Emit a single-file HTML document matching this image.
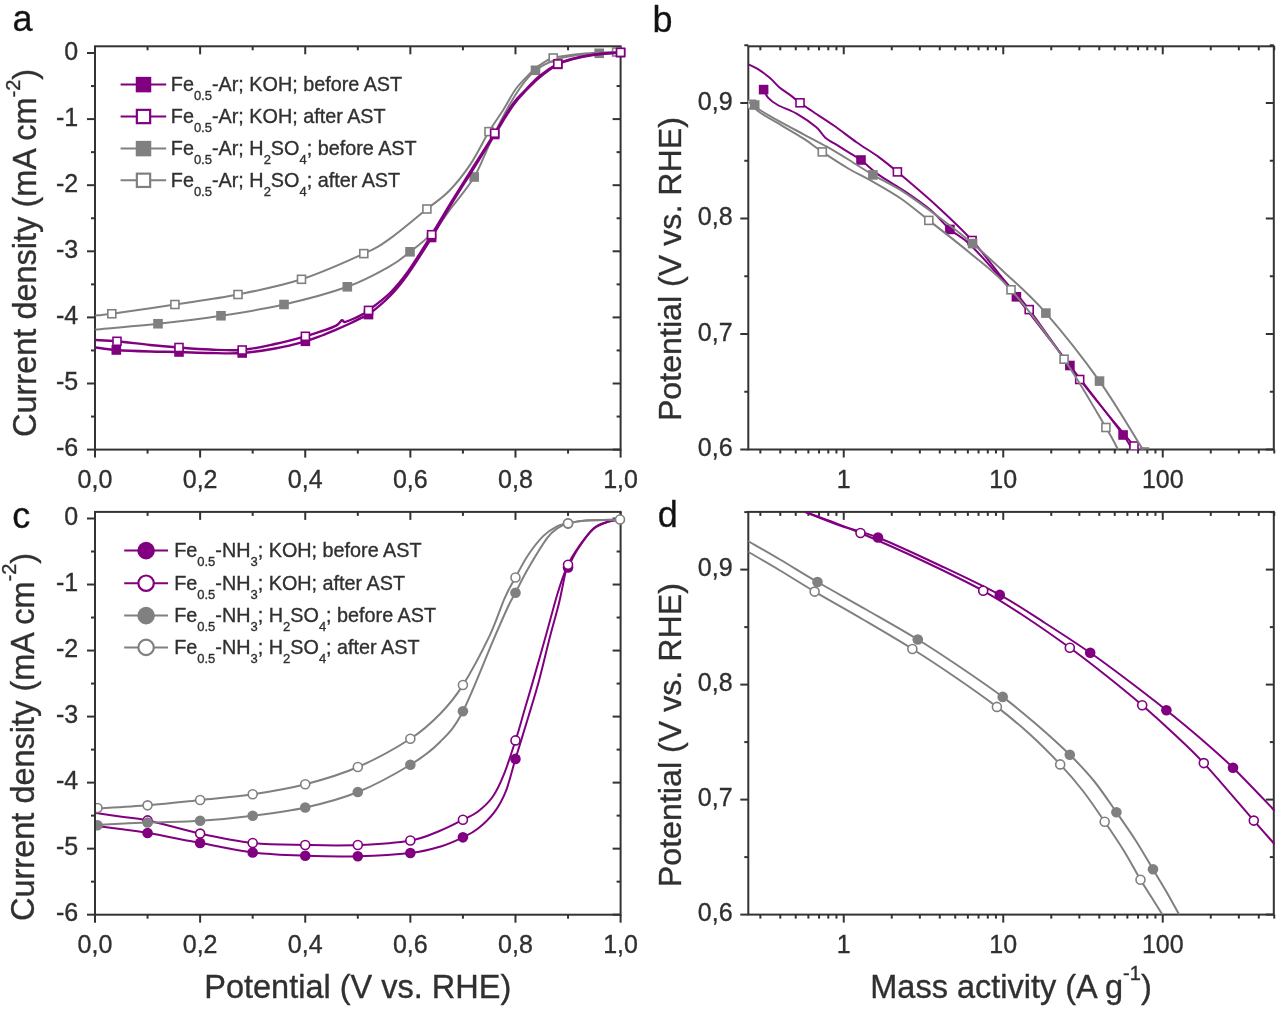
<!DOCTYPE html>
<html><head><meta charset="utf-8"><title>Figure</title>
<style>html,body{margin:0;padding:0;background:#fff;width:1280px;height:1009px;overflow:hidden}svg{display:block;filter:blur(0.65px)}text{stroke:#303030;stroke-width:0.35px}</style>
</head><body>
<svg width="1280" height="1009" viewBox="0 0 1280 1009" font-family='"Liberation Sans", sans-serif'>
<rect width="1280" height="1009" fill="#fff"/>
<rect x="95" y="46.3" width="525.6" height="403.3" fill="none" stroke="#333333" stroke-width="2"/>
<line x1="95" y1="449.6" x2="95" y2="457.6" stroke="#333333" stroke-width="2"/>
<line x1="95" y1="46.3" x2="95" y2="54.3" stroke="#333333" stroke-width="2"/>
<line x1="200.12" y1="449.6" x2="200.12" y2="457.6" stroke="#333333" stroke-width="2"/>
<line x1="200.12" y1="46.3" x2="200.12" y2="54.3" stroke="#333333" stroke-width="2"/>
<line x1="305.24" y1="449.6" x2="305.24" y2="457.6" stroke="#333333" stroke-width="2"/>
<line x1="305.24" y1="46.3" x2="305.24" y2="54.3" stroke="#333333" stroke-width="2"/>
<line x1="410.36" y1="449.6" x2="410.36" y2="457.6" stroke="#333333" stroke-width="2"/>
<line x1="410.36" y1="46.3" x2="410.36" y2="54.3" stroke="#333333" stroke-width="2"/>
<line x1="515.48" y1="449.6" x2="515.48" y2="457.6" stroke="#333333" stroke-width="2"/>
<line x1="515.48" y1="46.3" x2="515.48" y2="54.3" stroke="#333333" stroke-width="2"/>
<line x1="620.6" y1="449.6" x2="620.6" y2="457.6" stroke="#333333" stroke-width="2"/>
<line x1="620.6" y1="46.3" x2="620.6" y2="54.3" stroke="#333333" stroke-width="2"/>
<line x1="147.56" y1="449.6" x2="147.56" y2="453.6" stroke="#333333" stroke-width="2"/>
<line x1="147.56" y1="46.3" x2="147.56" y2="50.3" stroke="#333333" stroke-width="2"/>
<line x1="252.68" y1="449.6" x2="252.68" y2="453.6" stroke="#333333" stroke-width="2"/>
<line x1="252.68" y1="46.3" x2="252.68" y2="50.3" stroke="#333333" stroke-width="2"/>
<line x1="357.8" y1="449.6" x2="357.8" y2="453.6" stroke="#333333" stroke-width="2"/>
<line x1="357.8" y1="46.3" x2="357.8" y2="50.3" stroke="#333333" stroke-width="2"/>
<line x1="462.92" y1="449.6" x2="462.92" y2="453.6" stroke="#333333" stroke-width="2"/>
<line x1="462.92" y1="46.3" x2="462.92" y2="50.3" stroke="#333333" stroke-width="2"/>
<line x1="568.04" y1="449.6" x2="568.04" y2="453.6" stroke="#333333" stroke-width="2"/>
<line x1="568.04" y1="46.3" x2="568.04" y2="50.3" stroke="#333333" stroke-width="2"/>
<line x1="87" y1="53" x2="95" y2="53" stroke="#333333" stroke-width="2"/>
<line x1="612.6" y1="53" x2="620.6" y2="53" stroke="#333333" stroke-width="2"/>
<line x1="87" y1="119.1" x2="95" y2="119.1" stroke="#333333" stroke-width="2"/>
<line x1="612.6" y1="119.1" x2="620.6" y2="119.1" stroke="#333333" stroke-width="2"/>
<line x1="87" y1="185.2" x2="95" y2="185.2" stroke="#333333" stroke-width="2"/>
<line x1="612.6" y1="185.2" x2="620.6" y2="185.2" stroke="#333333" stroke-width="2"/>
<line x1="87" y1="251.3" x2="95" y2="251.3" stroke="#333333" stroke-width="2"/>
<line x1="612.6" y1="251.3" x2="620.6" y2="251.3" stroke="#333333" stroke-width="2"/>
<line x1="87" y1="317.4" x2="95" y2="317.4" stroke="#333333" stroke-width="2"/>
<line x1="612.6" y1="317.4" x2="620.6" y2="317.4" stroke="#333333" stroke-width="2"/>
<line x1="87" y1="383.5" x2="95" y2="383.5" stroke="#333333" stroke-width="2"/>
<line x1="612.6" y1="383.5" x2="620.6" y2="383.5" stroke="#333333" stroke-width="2"/>
<line x1="87" y1="449.6" x2="95" y2="449.6" stroke="#333333" stroke-width="2"/>
<line x1="612.6" y1="449.6" x2="620.6" y2="449.6" stroke="#333333" stroke-width="2"/>
<line x1="91" y1="86.05" x2="95" y2="86.05" stroke="#333333" stroke-width="2"/>
<line x1="616.6" y1="86.05" x2="620.6" y2="86.05" stroke="#333333" stroke-width="2"/>
<line x1="91" y1="152.15" x2="95" y2="152.15" stroke="#333333" stroke-width="2"/>
<line x1="616.6" y1="152.15" x2="620.6" y2="152.15" stroke="#333333" stroke-width="2"/>
<line x1="91" y1="218.25" x2="95" y2="218.25" stroke="#333333" stroke-width="2"/>
<line x1="616.6" y1="218.25" x2="620.6" y2="218.25" stroke="#333333" stroke-width="2"/>
<line x1="91" y1="284.35" x2="95" y2="284.35" stroke="#333333" stroke-width="2"/>
<line x1="616.6" y1="284.35" x2="620.6" y2="284.35" stroke="#333333" stroke-width="2"/>
<line x1="91" y1="350.45" x2="95" y2="350.45" stroke="#333333" stroke-width="2"/>
<line x1="616.6" y1="350.45" x2="620.6" y2="350.45" stroke="#333333" stroke-width="2"/>
<line x1="91" y1="416.55" x2="95" y2="416.55" stroke="#333333" stroke-width="2"/>
<line x1="616.6" y1="416.55" x2="620.6" y2="416.55" stroke="#333333" stroke-width="2"/>
<text x="78.2" y="59.6" font-size="25" text-anchor="end" fill="#303030">0</text>
<text x="78.2" y="125.7" font-size="25" text-anchor="end" fill="#303030">-1</text>
<text x="78.2" y="191.8" font-size="25" text-anchor="end" fill="#303030">-2</text>
<text x="78.2" y="257.9" font-size="25" text-anchor="end" fill="#303030">-3</text>
<text x="78.2" y="324" font-size="25" text-anchor="end" fill="#303030">-4</text>
<text x="78.2" y="390.1" font-size="25" text-anchor="end" fill="#303030">-5</text>
<text x="78.2" y="456.2" font-size="25" text-anchor="end" fill="#303030">-6</text>
<text x="95" y="487.6" font-size="25" text-anchor="middle" fill="#303030">0,0</text>
<text x="200.12" y="487.6" font-size="25" text-anchor="middle" fill="#303030">0,2</text>
<text x="305.24" y="487.6" font-size="25" text-anchor="middle" fill="#303030">0,4</text>
<text x="410.36" y="487.6" font-size="25" text-anchor="middle" fill="#303030">0,6</text>
<text x="515.48" y="487.6" font-size="25" text-anchor="middle" fill="#303030">0,8</text>
<text x="620.6" y="487.6" font-size="25" text-anchor="middle" fill="#303030">1,0</text>
<rect x="95" y="511.9" width="525.6" height="402.8" fill="none" stroke="#333333" stroke-width="2"/>
<line x1="95" y1="914.7" x2="95" y2="922.7" stroke="#333333" stroke-width="2"/>
<line x1="95" y1="511.9" x2="95" y2="519.9" stroke="#333333" stroke-width="2"/>
<line x1="200.12" y1="914.7" x2="200.12" y2="922.7" stroke="#333333" stroke-width="2"/>
<line x1="200.12" y1="511.9" x2="200.12" y2="519.9" stroke="#333333" stroke-width="2"/>
<line x1="305.24" y1="914.7" x2="305.24" y2="922.7" stroke="#333333" stroke-width="2"/>
<line x1="305.24" y1="511.9" x2="305.24" y2="519.9" stroke="#333333" stroke-width="2"/>
<line x1="410.36" y1="914.7" x2="410.36" y2="922.7" stroke="#333333" stroke-width="2"/>
<line x1="410.36" y1="511.9" x2="410.36" y2="519.9" stroke="#333333" stroke-width="2"/>
<line x1="515.48" y1="914.7" x2="515.48" y2="922.7" stroke="#333333" stroke-width="2"/>
<line x1="515.48" y1="511.9" x2="515.48" y2="519.9" stroke="#333333" stroke-width="2"/>
<line x1="620.6" y1="914.7" x2="620.6" y2="922.7" stroke="#333333" stroke-width="2"/>
<line x1="620.6" y1="511.9" x2="620.6" y2="519.9" stroke="#333333" stroke-width="2"/>
<line x1="147.56" y1="914.7" x2="147.56" y2="918.7" stroke="#333333" stroke-width="2"/>
<line x1="147.56" y1="511.9" x2="147.56" y2="515.9" stroke="#333333" stroke-width="2"/>
<line x1="252.68" y1="914.7" x2="252.68" y2="918.7" stroke="#333333" stroke-width="2"/>
<line x1="252.68" y1="511.9" x2="252.68" y2="515.9" stroke="#333333" stroke-width="2"/>
<line x1="357.8" y1="914.7" x2="357.8" y2="918.7" stroke="#333333" stroke-width="2"/>
<line x1="357.8" y1="511.9" x2="357.8" y2="515.9" stroke="#333333" stroke-width="2"/>
<line x1="462.92" y1="914.7" x2="462.92" y2="918.7" stroke="#333333" stroke-width="2"/>
<line x1="462.92" y1="511.9" x2="462.92" y2="515.9" stroke="#333333" stroke-width="2"/>
<line x1="568.04" y1="914.7" x2="568.04" y2="918.7" stroke="#333333" stroke-width="2"/>
<line x1="568.04" y1="511.9" x2="568.04" y2="515.9" stroke="#333333" stroke-width="2"/>
<line x1="87" y1="518.5" x2="95" y2="518.5" stroke="#333333" stroke-width="2"/>
<line x1="612.6" y1="518.5" x2="620.6" y2="518.5" stroke="#333333" stroke-width="2"/>
<line x1="87" y1="584.53" x2="95" y2="584.53" stroke="#333333" stroke-width="2"/>
<line x1="612.6" y1="584.53" x2="620.6" y2="584.53" stroke="#333333" stroke-width="2"/>
<line x1="87" y1="650.56" x2="95" y2="650.56" stroke="#333333" stroke-width="2"/>
<line x1="612.6" y1="650.56" x2="620.6" y2="650.56" stroke="#333333" stroke-width="2"/>
<line x1="87" y1="716.59" x2="95" y2="716.59" stroke="#333333" stroke-width="2"/>
<line x1="612.6" y1="716.59" x2="620.6" y2="716.59" stroke="#333333" stroke-width="2"/>
<line x1="87" y1="782.62" x2="95" y2="782.62" stroke="#333333" stroke-width="2"/>
<line x1="612.6" y1="782.62" x2="620.6" y2="782.62" stroke="#333333" stroke-width="2"/>
<line x1="87" y1="848.65" x2="95" y2="848.65" stroke="#333333" stroke-width="2"/>
<line x1="612.6" y1="848.65" x2="620.6" y2="848.65" stroke="#333333" stroke-width="2"/>
<line x1="87" y1="914.68" x2="95" y2="914.68" stroke="#333333" stroke-width="2"/>
<line x1="612.6" y1="914.68" x2="620.6" y2="914.68" stroke="#333333" stroke-width="2"/>
<line x1="91" y1="551.51" x2="95" y2="551.51" stroke="#333333" stroke-width="2"/>
<line x1="616.6" y1="551.51" x2="620.6" y2="551.51" stroke="#333333" stroke-width="2"/>
<line x1="91" y1="617.54" x2="95" y2="617.54" stroke="#333333" stroke-width="2"/>
<line x1="616.6" y1="617.54" x2="620.6" y2="617.54" stroke="#333333" stroke-width="2"/>
<line x1="91" y1="683.58" x2="95" y2="683.58" stroke="#333333" stroke-width="2"/>
<line x1="616.6" y1="683.58" x2="620.6" y2="683.58" stroke="#333333" stroke-width="2"/>
<line x1="91" y1="749.61" x2="95" y2="749.61" stroke="#333333" stroke-width="2"/>
<line x1="616.6" y1="749.61" x2="620.6" y2="749.61" stroke="#333333" stroke-width="2"/>
<line x1="91" y1="815.63" x2="95" y2="815.63" stroke="#333333" stroke-width="2"/>
<line x1="616.6" y1="815.63" x2="620.6" y2="815.63" stroke="#333333" stroke-width="2"/>
<line x1="91" y1="881.66" x2="95" y2="881.66" stroke="#333333" stroke-width="2"/>
<line x1="616.6" y1="881.66" x2="620.6" y2="881.66" stroke="#333333" stroke-width="2"/>
<text x="78.2" y="525.1" font-size="25" text-anchor="end" fill="#303030">0</text>
<text x="78.2" y="591.13" font-size="25" text-anchor="end" fill="#303030">-1</text>
<text x="78.2" y="657.16" font-size="25" text-anchor="end" fill="#303030">-2</text>
<text x="78.2" y="723.19" font-size="25" text-anchor="end" fill="#303030">-3</text>
<text x="78.2" y="789.22" font-size="25" text-anchor="end" fill="#303030">-4</text>
<text x="78.2" y="855.25" font-size="25" text-anchor="end" fill="#303030">-5</text>
<text x="78.2" y="921.28" font-size="25" text-anchor="end" fill="#303030">-6</text>
<text x="95" y="952.7" font-size="25" text-anchor="middle" fill="#303030">0,0</text>
<text x="200.12" y="952.7" font-size="25" text-anchor="middle" fill="#303030">0,2</text>
<text x="305.24" y="952.7" font-size="25" text-anchor="middle" fill="#303030">0,4</text>
<text x="410.36" y="952.7" font-size="25" text-anchor="middle" fill="#303030">0,6</text>
<text x="515.48" y="952.7" font-size="25" text-anchor="middle" fill="#303030">0,8</text>
<text x="620.6" y="952.7" font-size="25" text-anchor="middle" fill="#303030">1,0</text>
<rect x="748.3" y="46.3" width="525.5" height="403.2" fill="none" stroke="#333333" stroke-width="2"/>
<line x1="843.75" y1="449.5" x2="843.75" y2="457.5" stroke="#333333" stroke-width="2"/>
<line x1="843.75" y1="46.3" x2="843.75" y2="54.3" stroke="#333333" stroke-width="2"/>
<line x1="1003.25" y1="449.5" x2="1003.25" y2="457.5" stroke="#333333" stroke-width="2"/>
<line x1="1003.25" y1="46.3" x2="1003.25" y2="54.3" stroke="#333333" stroke-width="2"/>
<line x1="1162.75" y1="449.5" x2="1162.75" y2="457.5" stroke="#333333" stroke-width="2"/>
<line x1="1162.75" y1="46.3" x2="1162.75" y2="54.3" stroke="#333333" stroke-width="2"/>
<line x1="760.35" y1="449.5" x2="760.35" y2="453.5" stroke="#333333" stroke-width="2"/>
<line x1="760.35" y1="46.3" x2="760.35" y2="50.3" stroke="#333333" stroke-width="2"/>
<line x1="780.28" y1="449.5" x2="780.28" y2="453.5" stroke="#333333" stroke-width="2"/>
<line x1="780.28" y1="46.3" x2="780.28" y2="50.3" stroke="#333333" stroke-width="2"/>
<line x1="795.74" y1="449.5" x2="795.74" y2="453.5" stroke="#333333" stroke-width="2"/>
<line x1="795.74" y1="46.3" x2="795.74" y2="50.3" stroke="#333333" stroke-width="2"/>
<line x1="808.37" y1="449.5" x2="808.37" y2="453.5" stroke="#333333" stroke-width="2"/>
<line x1="808.37" y1="46.3" x2="808.37" y2="50.3" stroke="#333333" stroke-width="2"/>
<line x1="819.04" y1="449.5" x2="819.04" y2="453.5" stroke="#333333" stroke-width="2"/>
<line x1="819.04" y1="46.3" x2="819.04" y2="50.3" stroke="#333333" stroke-width="2"/>
<line x1="828.29" y1="449.5" x2="828.29" y2="453.5" stroke="#333333" stroke-width="2"/>
<line x1="828.29" y1="46.3" x2="828.29" y2="50.3" stroke="#333333" stroke-width="2"/>
<line x1="836.45" y1="449.5" x2="836.45" y2="453.5" stroke="#333333" stroke-width="2"/>
<line x1="836.45" y1="46.3" x2="836.45" y2="50.3" stroke="#333333" stroke-width="2"/>
<line x1="891.76" y1="449.5" x2="891.76" y2="453.5" stroke="#333333" stroke-width="2"/>
<line x1="891.76" y1="46.3" x2="891.76" y2="50.3" stroke="#333333" stroke-width="2"/>
<line x1="919.85" y1="449.5" x2="919.85" y2="453.5" stroke="#333333" stroke-width="2"/>
<line x1="919.85" y1="46.3" x2="919.85" y2="50.3" stroke="#333333" stroke-width="2"/>
<line x1="939.78" y1="449.5" x2="939.78" y2="453.5" stroke="#333333" stroke-width="2"/>
<line x1="939.78" y1="46.3" x2="939.78" y2="50.3" stroke="#333333" stroke-width="2"/>
<line x1="955.24" y1="449.5" x2="955.24" y2="453.5" stroke="#333333" stroke-width="2"/>
<line x1="955.24" y1="46.3" x2="955.24" y2="50.3" stroke="#333333" stroke-width="2"/>
<line x1="967.87" y1="449.5" x2="967.87" y2="453.5" stroke="#333333" stroke-width="2"/>
<line x1="967.87" y1="46.3" x2="967.87" y2="50.3" stroke="#333333" stroke-width="2"/>
<line x1="978.54" y1="449.5" x2="978.54" y2="453.5" stroke="#333333" stroke-width="2"/>
<line x1="978.54" y1="46.3" x2="978.54" y2="50.3" stroke="#333333" stroke-width="2"/>
<line x1="987.79" y1="449.5" x2="987.79" y2="453.5" stroke="#333333" stroke-width="2"/>
<line x1="987.79" y1="46.3" x2="987.79" y2="50.3" stroke="#333333" stroke-width="2"/>
<line x1="995.95" y1="449.5" x2="995.95" y2="453.5" stroke="#333333" stroke-width="2"/>
<line x1="995.95" y1="46.3" x2="995.95" y2="50.3" stroke="#333333" stroke-width="2"/>
<line x1="1051.26" y1="449.5" x2="1051.26" y2="453.5" stroke="#333333" stroke-width="2"/>
<line x1="1051.26" y1="46.3" x2="1051.26" y2="50.3" stroke="#333333" stroke-width="2"/>
<line x1="1079.35" y1="449.5" x2="1079.35" y2="453.5" stroke="#333333" stroke-width="2"/>
<line x1="1079.35" y1="46.3" x2="1079.35" y2="50.3" stroke="#333333" stroke-width="2"/>
<line x1="1099.28" y1="449.5" x2="1099.28" y2="453.5" stroke="#333333" stroke-width="2"/>
<line x1="1099.28" y1="46.3" x2="1099.28" y2="50.3" stroke="#333333" stroke-width="2"/>
<line x1="1114.74" y1="449.5" x2="1114.74" y2="453.5" stroke="#333333" stroke-width="2"/>
<line x1="1114.74" y1="46.3" x2="1114.74" y2="50.3" stroke="#333333" stroke-width="2"/>
<line x1="1127.37" y1="449.5" x2="1127.37" y2="453.5" stroke="#333333" stroke-width="2"/>
<line x1="1127.37" y1="46.3" x2="1127.37" y2="50.3" stroke="#333333" stroke-width="2"/>
<line x1="1138.04" y1="449.5" x2="1138.04" y2="453.5" stroke="#333333" stroke-width="2"/>
<line x1="1138.04" y1="46.3" x2="1138.04" y2="50.3" stroke="#333333" stroke-width="2"/>
<line x1="1147.29" y1="449.5" x2="1147.29" y2="453.5" stroke="#333333" stroke-width="2"/>
<line x1="1147.29" y1="46.3" x2="1147.29" y2="50.3" stroke="#333333" stroke-width="2"/>
<line x1="1155.45" y1="449.5" x2="1155.45" y2="453.5" stroke="#333333" stroke-width="2"/>
<line x1="1155.45" y1="46.3" x2="1155.45" y2="50.3" stroke="#333333" stroke-width="2"/>
<line x1="1210.76" y1="449.5" x2="1210.76" y2="453.5" stroke="#333333" stroke-width="2"/>
<line x1="1210.76" y1="46.3" x2="1210.76" y2="50.3" stroke="#333333" stroke-width="2"/>
<line x1="1238.85" y1="449.5" x2="1238.85" y2="453.5" stroke="#333333" stroke-width="2"/>
<line x1="1238.85" y1="46.3" x2="1238.85" y2="50.3" stroke="#333333" stroke-width="2"/>
<line x1="1258.78" y1="449.5" x2="1258.78" y2="453.5" stroke="#333333" stroke-width="2"/>
<line x1="1258.78" y1="46.3" x2="1258.78" y2="50.3" stroke="#333333" stroke-width="2"/>
<line x1="1274.24" y1="449.5" x2="1274.24" y2="453.5" stroke="#333333" stroke-width="2"/>
<line x1="1274.24" y1="46.3" x2="1274.24" y2="50.3" stroke="#333333" stroke-width="2"/>
<line x1="740.3" y1="449.5" x2="748.3" y2="449.5" stroke="#333333" stroke-width="2"/>
<line x1="1265.8" y1="449.5" x2="1273.8" y2="449.5" stroke="#333333" stroke-width="2"/>
<line x1="740.3" y1="334" x2="748.3" y2="334" stroke="#333333" stroke-width="2"/>
<line x1="1265.8" y1="334" x2="1273.8" y2="334" stroke="#333333" stroke-width="2"/>
<line x1="740.3" y1="218.5" x2="748.3" y2="218.5" stroke="#333333" stroke-width="2"/>
<line x1="1265.8" y1="218.5" x2="1273.8" y2="218.5" stroke="#333333" stroke-width="2"/>
<line x1="740.3" y1="103" x2="748.3" y2="103" stroke="#333333" stroke-width="2"/>
<line x1="1265.8" y1="103" x2="1273.8" y2="103" stroke="#333333" stroke-width="2"/>
<line x1="744.3" y1="391.75" x2="748.3" y2="391.75" stroke="#333333" stroke-width="2"/>
<line x1="1269.8" y1="391.75" x2="1273.8" y2="391.75" stroke="#333333" stroke-width="2"/>
<line x1="744.3" y1="276.25" x2="748.3" y2="276.25" stroke="#333333" stroke-width="2"/>
<line x1="1269.8" y1="276.25" x2="1273.8" y2="276.25" stroke="#333333" stroke-width="2"/>
<line x1="744.3" y1="160.75" x2="748.3" y2="160.75" stroke="#333333" stroke-width="2"/>
<line x1="1269.8" y1="160.75" x2="1273.8" y2="160.75" stroke="#333333" stroke-width="2"/>
<line x1="744.3" y1="45.25" x2="748.3" y2="45.25" stroke="#333333" stroke-width="2"/>
<line x1="1269.8" y1="45.25" x2="1273.8" y2="45.25" stroke="#333333" stroke-width="2"/>
<text x="732.6" y="456.1" font-size="25" text-anchor="end" fill="#303030">0,6</text>
<text x="732.6" y="340.6" font-size="25" text-anchor="end" fill="#303030">0,7</text>
<text x="732.6" y="225.1" font-size="25" text-anchor="end" fill="#303030">0,8</text>
<text x="732.6" y="109.6" font-size="25" text-anchor="end" fill="#303030">0,9</text>
<text x="843.75" y="487.5" font-size="25" text-anchor="middle" fill="#303030">1</text>
<text x="1003.25" y="487.5" font-size="25" text-anchor="middle" fill="#303030">10</text>
<text x="1162.75" y="487.5" font-size="25" text-anchor="middle" fill="#303030">100</text>
<rect x="748.3" y="511.9" width="525.5" height="402.7" fill="none" stroke="#333333" stroke-width="2"/>
<line x1="843.75" y1="914.6" x2="843.75" y2="922.6" stroke="#333333" stroke-width="2"/>
<line x1="843.75" y1="511.9" x2="843.75" y2="519.9" stroke="#333333" stroke-width="2"/>
<line x1="1003.25" y1="914.6" x2="1003.25" y2="922.6" stroke="#333333" stroke-width="2"/>
<line x1="1003.25" y1="511.9" x2="1003.25" y2="519.9" stroke="#333333" stroke-width="2"/>
<line x1="1162.75" y1="914.6" x2="1162.75" y2="922.6" stroke="#333333" stroke-width="2"/>
<line x1="1162.75" y1="511.9" x2="1162.75" y2="519.9" stroke="#333333" stroke-width="2"/>
<line x1="760.35" y1="914.6" x2="760.35" y2="918.6" stroke="#333333" stroke-width="2"/>
<line x1="760.35" y1="511.9" x2="760.35" y2="515.9" stroke="#333333" stroke-width="2"/>
<line x1="780.28" y1="914.6" x2="780.28" y2="918.6" stroke="#333333" stroke-width="2"/>
<line x1="780.28" y1="511.9" x2="780.28" y2="515.9" stroke="#333333" stroke-width="2"/>
<line x1="795.74" y1="914.6" x2="795.74" y2="918.6" stroke="#333333" stroke-width="2"/>
<line x1="795.74" y1="511.9" x2="795.74" y2="515.9" stroke="#333333" stroke-width="2"/>
<line x1="808.37" y1="914.6" x2="808.37" y2="918.6" stroke="#333333" stroke-width="2"/>
<line x1="808.37" y1="511.9" x2="808.37" y2="515.9" stroke="#333333" stroke-width="2"/>
<line x1="819.04" y1="914.6" x2="819.04" y2="918.6" stroke="#333333" stroke-width="2"/>
<line x1="819.04" y1="511.9" x2="819.04" y2="515.9" stroke="#333333" stroke-width="2"/>
<line x1="828.29" y1="914.6" x2="828.29" y2="918.6" stroke="#333333" stroke-width="2"/>
<line x1="828.29" y1="511.9" x2="828.29" y2="515.9" stroke="#333333" stroke-width="2"/>
<line x1="836.45" y1="914.6" x2="836.45" y2="918.6" stroke="#333333" stroke-width="2"/>
<line x1="836.45" y1="511.9" x2="836.45" y2="515.9" stroke="#333333" stroke-width="2"/>
<line x1="891.76" y1="914.6" x2="891.76" y2="918.6" stroke="#333333" stroke-width="2"/>
<line x1="891.76" y1="511.9" x2="891.76" y2="515.9" stroke="#333333" stroke-width="2"/>
<line x1="919.85" y1="914.6" x2="919.85" y2="918.6" stroke="#333333" stroke-width="2"/>
<line x1="919.85" y1="511.9" x2="919.85" y2="515.9" stroke="#333333" stroke-width="2"/>
<line x1="939.78" y1="914.6" x2="939.78" y2="918.6" stroke="#333333" stroke-width="2"/>
<line x1="939.78" y1="511.9" x2="939.78" y2="515.9" stroke="#333333" stroke-width="2"/>
<line x1="955.24" y1="914.6" x2="955.24" y2="918.6" stroke="#333333" stroke-width="2"/>
<line x1="955.24" y1="511.9" x2="955.24" y2="515.9" stroke="#333333" stroke-width="2"/>
<line x1="967.87" y1="914.6" x2="967.87" y2="918.6" stroke="#333333" stroke-width="2"/>
<line x1="967.87" y1="511.9" x2="967.87" y2="515.9" stroke="#333333" stroke-width="2"/>
<line x1="978.54" y1="914.6" x2="978.54" y2="918.6" stroke="#333333" stroke-width="2"/>
<line x1="978.54" y1="511.9" x2="978.54" y2="515.9" stroke="#333333" stroke-width="2"/>
<line x1="987.79" y1="914.6" x2="987.79" y2="918.6" stroke="#333333" stroke-width="2"/>
<line x1="987.79" y1="511.9" x2="987.79" y2="515.9" stroke="#333333" stroke-width="2"/>
<line x1="995.95" y1="914.6" x2="995.95" y2="918.6" stroke="#333333" stroke-width="2"/>
<line x1="995.95" y1="511.9" x2="995.95" y2="515.9" stroke="#333333" stroke-width="2"/>
<line x1="1051.26" y1="914.6" x2="1051.26" y2="918.6" stroke="#333333" stroke-width="2"/>
<line x1="1051.26" y1="511.9" x2="1051.26" y2="515.9" stroke="#333333" stroke-width="2"/>
<line x1="1079.35" y1="914.6" x2="1079.35" y2="918.6" stroke="#333333" stroke-width="2"/>
<line x1="1079.35" y1="511.9" x2="1079.35" y2="515.9" stroke="#333333" stroke-width="2"/>
<line x1="1099.28" y1="914.6" x2="1099.28" y2="918.6" stroke="#333333" stroke-width="2"/>
<line x1="1099.28" y1="511.9" x2="1099.28" y2="515.9" stroke="#333333" stroke-width="2"/>
<line x1="1114.74" y1="914.6" x2="1114.74" y2="918.6" stroke="#333333" stroke-width="2"/>
<line x1="1114.74" y1="511.9" x2="1114.74" y2="515.9" stroke="#333333" stroke-width="2"/>
<line x1="1127.37" y1="914.6" x2="1127.37" y2="918.6" stroke="#333333" stroke-width="2"/>
<line x1="1127.37" y1="511.9" x2="1127.37" y2="515.9" stroke="#333333" stroke-width="2"/>
<line x1="1138.04" y1="914.6" x2="1138.04" y2="918.6" stroke="#333333" stroke-width="2"/>
<line x1="1138.04" y1="511.9" x2="1138.04" y2="515.9" stroke="#333333" stroke-width="2"/>
<line x1="1147.29" y1="914.6" x2="1147.29" y2="918.6" stroke="#333333" stroke-width="2"/>
<line x1="1147.29" y1="511.9" x2="1147.29" y2="515.9" stroke="#333333" stroke-width="2"/>
<line x1="1155.45" y1="914.6" x2="1155.45" y2="918.6" stroke="#333333" stroke-width="2"/>
<line x1="1155.45" y1="511.9" x2="1155.45" y2="515.9" stroke="#333333" stroke-width="2"/>
<line x1="1210.76" y1="914.6" x2="1210.76" y2="918.6" stroke="#333333" stroke-width="2"/>
<line x1="1210.76" y1="511.9" x2="1210.76" y2="515.9" stroke="#333333" stroke-width="2"/>
<line x1="1238.85" y1="914.6" x2="1238.85" y2="918.6" stroke="#333333" stroke-width="2"/>
<line x1="1238.85" y1="511.9" x2="1238.85" y2="515.9" stroke="#333333" stroke-width="2"/>
<line x1="1258.78" y1="914.6" x2="1258.78" y2="918.6" stroke="#333333" stroke-width="2"/>
<line x1="1258.78" y1="511.9" x2="1258.78" y2="515.9" stroke="#333333" stroke-width="2"/>
<line x1="1274.24" y1="914.6" x2="1274.24" y2="918.6" stroke="#333333" stroke-width="2"/>
<line x1="1274.24" y1="511.9" x2="1274.24" y2="515.9" stroke="#333333" stroke-width="2"/>
<line x1="740.3" y1="914.6" x2="748.3" y2="914.6" stroke="#333333" stroke-width="2"/>
<line x1="1265.8" y1="914.6" x2="1273.8" y2="914.6" stroke="#333333" stroke-width="2"/>
<line x1="740.3" y1="799.6" x2="748.3" y2="799.6" stroke="#333333" stroke-width="2"/>
<line x1="1265.8" y1="799.6" x2="1273.8" y2="799.6" stroke="#333333" stroke-width="2"/>
<line x1="740.3" y1="684.6" x2="748.3" y2="684.6" stroke="#333333" stroke-width="2"/>
<line x1="1265.8" y1="684.6" x2="1273.8" y2="684.6" stroke="#333333" stroke-width="2"/>
<line x1="740.3" y1="569.6" x2="748.3" y2="569.6" stroke="#333333" stroke-width="2"/>
<line x1="1265.8" y1="569.6" x2="1273.8" y2="569.6" stroke="#333333" stroke-width="2"/>
<line x1="744.3" y1="857.1" x2="748.3" y2="857.1" stroke="#333333" stroke-width="2"/>
<line x1="1269.8" y1="857.1" x2="1273.8" y2="857.1" stroke="#333333" stroke-width="2"/>
<line x1="744.3" y1="742.1" x2="748.3" y2="742.1" stroke="#333333" stroke-width="2"/>
<line x1="1269.8" y1="742.1" x2="1273.8" y2="742.1" stroke="#333333" stroke-width="2"/>
<line x1="744.3" y1="627.1" x2="748.3" y2="627.1" stroke="#333333" stroke-width="2"/>
<line x1="1269.8" y1="627.1" x2="1273.8" y2="627.1" stroke="#333333" stroke-width="2"/>
<line x1="744.3" y1="512.1" x2="748.3" y2="512.1" stroke="#333333" stroke-width="2"/>
<line x1="1269.8" y1="512.1" x2="1273.8" y2="512.1" stroke="#333333" stroke-width="2"/>
<text x="732.6" y="921.2" font-size="25" text-anchor="end" fill="#303030">0,6</text>
<text x="732.6" y="806.2" font-size="25" text-anchor="end" fill="#303030">0,7</text>
<text x="732.6" y="691.2" font-size="25" text-anchor="end" fill="#303030">0,8</text>
<text x="732.6" y="576.2" font-size="25" text-anchor="end" fill="#303030">0,9</text>
<text x="843.75" y="952.6" font-size="25" text-anchor="middle" fill="#303030">1</text>
<text x="1003.25" y="952.6" font-size="25" text-anchor="middle" fill="#303030">10</text>
<text x="1162.75" y="952.6" font-size="25" text-anchor="middle" fill="#303030">100</text>
<text x="12.4" y="30.5" font-size="36" text-anchor="start" fill="#111">a</text>
<text x="652.5" y="31.5" font-size="36" text-anchor="start" fill="#111">b</text>
<text x="12.2" y="527.5" font-size="36" text-anchor="start" fill="#111">c</text>
<text x="657.7" y="527" font-size="36" text-anchor="start" fill="#111">d</text>
<text transform="translate(35.8,437) rotate(-90)" font-size="32.5" fill="#303030">Current density (mA cm<tspan font-size="20" dy="-15.8">-2</tspan><tspan dy="15.8">)</tspan></text>
<text transform="translate(33.9,921) rotate(-90)" font-size="32.5" fill="#303030">Current density (mA cm<tspan font-size="20" dy="-17.6">-2</tspan><tspan dy="17.6">)</tspan></text>
<text transform="translate(681,421.1) rotate(-90)" font-size="32.2" fill="#303030">Potential (V vs. RHE)</text>
<text transform="translate(681,887.2) rotate(-90)" font-size="32.2" fill="#303030">Potential (V vs. RHE)</text>
<text x="357.8" y="997.8" font-size="32.5" text-anchor="middle" fill="#303030">Potential (V vs. RHE)</text>
<text x="1011" y="997.5" font-size="32.5" text-anchor="middle" fill="#303030">Mass activity (A g<tspan font-size="20" dy="-17.5">-1</tspan><tspan dy="17.5">)</tspan></text>
<line x1="120.6" y1="84.6" x2="166.2" y2="84.6" stroke="#800080" stroke-width="2"/>
<rect x="135.75" y="76.85" width="15.5" height="15.5" fill="#800080"/>
<text x="170.8" y="91.4" font-size="19.8" fill="#303030">Fe<tspan font-size="13" dy="8.5">0.5</tspan><tspan dy="-8.5">-Ar; KOH; before AST</tspan></text>
<line x1="120.6" y1="116.5" x2="166.2" y2="116.5" stroke="#800080" stroke-width="2"/>
<rect x="136.85" y="109.85" width="13.3" height="13.3" fill="#fff" stroke="#800080" stroke-width="2.2"/>
<text x="170.8" y="123.3" font-size="19.8" fill="#303030">Fe<tspan font-size="13" dy="8.5">0.5</tspan><tspan dy="-8.5">-Ar; KOH; after AST</tspan></text>
<line x1="120.6" y1="148.6" x2="166.2" y2="148.6" stroke="#808080" stroke-width="2"/>
<rect x="135.75" y="140.85" width="15.5" height="15.5" fill="#808080"/>
<text x="170.8" y="155.4" font-size="19.8" fill="#303030">Fe<tspan font-size="13" dy="8.5">0.5</tspan><tspan dy="-8.5">-Ar; H</tspan><tspan font-size="13" dy="8.5">2</tspan><tspan dy="-8.5">SO</tspan><tspan font-size="13" dy="8.5">4</tspan><tspan dy="-8.5">; before AST</tspan></text>
<line x1="120.6" y1="180.3" x2="166.2" y2="180.3" stroke="#808080" stroke-width="2"/>
<rect x="136.85" y="173.65" width="13.3" height="13.3" fill="#fff" stroke="#808080" stroke-width="2.2"/>
<text x="170.8" y="187.1" font-size="19.8" fill="#303030">Fe<tspan font-size="13" dy="8.5">0.5</tspan><tspan dy="-8.5">-Ar; H</tspan><tspan font-size="13" dy="8.5">2</tspan><tspan dy="-8.5">SO</tspan><tspan font-size="13" dy="8.5">4</tspan><tspan dy="-8.5">; after AST</tspan></text>
<line x1="124.2" y1="550.6" x2="168" y2="550.6" stroke="#800080" stroke-width="2"/>
<circle cx="146.1" cy="550.6" r="8.8" fill="#800080"/>
<text x="174.2" y="557.4" font-size="19.8" fill="#303030">Fe<tspan font-size="13" dy="8.5">0.5</tspan><tspan dy="-8.5">-NH</tspan><tspan font-size="13" dy="8.5">3</tspan><tspan dy="-8.5">; KOH; before AST</tspan></text>
<line x1="124.2" y1="583.2" x2="168" y2="583.2" stroke="#800080" stroke-width="2"/>
<circle cx="146.1" cy="583.2" r="7.7" fill="#fff" stroke="#800080" stroke-width="2.2"/>
<text x="174.2" y="590" font-size="19.8" fill="#303030">Fe<tspan font-size="13" dy="8.5">0.5</tspan><tspan dy="-8.5">-NH</tspan><tspan font-size="13" dy="8.5">3</tspan><tspan dy="-8.5">; KOH; after AST</tspan></text>
<line x1="124.2" y1="615.6" x2="168" y2="615.6" stroke="#808080" stroke-width="2"/>
<circle cx="146.1" cy="615.6" r="8.8" fill="#808080"/>
<text x="174.2" y="622.4" font-size="19.8" fill="#303030">Fe<tspan font-size="13" dy="8.5">0.5</tspan><tspan dy="-8.5">-NH</tspan><tspan font-size="13" dy="8.5">3</tspan><tspan dy="-8.5">; H</tspan><tspan font-size="13" dy="8.5">2</tspan><tspan dy="-8.5">SO</tspan><tspan font-size="13" dy="8.5">4</tspan><tspan dy="-8.5">; before AST</tspan></text>
<line x1="124.2" y1="647.4" x2="168" y2="647.4" stroke="#808080" stroke-width="2"/>
<circle cx="146.1" cy="647.4" r="7.7" fill="#fff" stroke="#808080" stroke-width="2.2"/>
<text x="174.2" y="654.2" font-size="19.8" fill="#303030">Fe<tspan font-size="13" dy="8.5">0.5</tspan><tspan dy="-8.5">-NH</tspan><tspan font-size="13" dy="8.5">3</tspan><tspan dy="-8.5">; H</tspan><tspan font-size="13" dy="8.5">2</tspan><tspan dy="-8.5">SO</tspan><tspan font-size="13" dy="8.5">4</tspan><tspan dy="-8.5">; after AST</tspan></text>
<defs>
<clipPath id="ca"><rect x="95" y="46.3" width="533.6" height="403.3"/></clipPath>
<clipPath id="cb"><rect x="748.3" y="46.3" width="533.5" height="403.2"/></clipPath>
<clipPath id="cc"><rect x="96" y="511.9" width="532.6" height="402.8"/></clipPath>
<clipPath id="cd"><rect x="748.3" y="511.9" width="533.5" height="402.7"/></clipPath>
</defs>
<g clip-path="url(#ca)">
<path d="M96,315.5 C98.63,315.21 98.65,315.58 111.8,313.75 C124.95,311.92 153.87,307.71 174.9,304.5 C195.93,301.29 216.9,298.7 238,294.5 C259.1,290.3 280.53,286.12 301.5,279.3 C322.47,272.48 349.05,260.38 363.8,253.6 C378.55,246.82 379.48,246.03 390,238.6 C400.52,231.17 417.1,216.88 426.9,209 C436.7,201.12 441.58,198.7 448.8,191.3 C456.02,183.9 463.5,174.55 470.2,164.6 C476.9,154.65 483.4,140.87 489,131.6 C494.6,122.33 499.33,116.1 503.8,109 C508.27,101.9 511.6,94.75 515.8,89 C520,83.25 525.02,78.47 529,74.5 C532.98,70.53 535.67,67.95 539.7,65.2 C543.73,62.45 545.65,59.95 553.2,58 C560.75,56.05 574.43,54.5 585,53.5 C595.57,52.5 610.77,52.25 616.6,52 C622.43,51.75 619.43,52 620,52" fill="none" stroke="#808080" stroke-width="2" stroke-linejoin="round" stroke-linecap="round"/>
<rect x="107.8" y="309.75" width="8" height="8" fill="#fff" stroke="#808080" stroke-width="1.6"/>
<rect x="170.9" y="300.5" width="8" height="8" fill="#fff" stroke="#808080" stroke-width="1.6"/>
<rect x="234" y="290.5" width="8" height="8" fill="#fff" stroke="#808080" stroke-width="1.6"/>
<rect x="297.5" y="275.3" width="8" height="8" fill="#fff" stroke="#808080" stroke-width="1.6"/>
<rect x="359.8" y="249.6" width="8" height="8" fill="#fff" stroke="#808080" stroke-width="1.6"/>
<rect x="422.9" y="205" width="8" height="8" fill="#fff" stroke="#808080" stroke-width="1.6"/>
<rect x="485" y="127.6" width="8" height="8" fill="#fff" stroke="#808080" stroke-width="1.6"/>
<rect x="549.2" y="54" width="8" height="8" fill="#fff" stroke="#808080" stroke-width="1.6"/>
<rect x="612.6" y="48" width="8" height="8" fill="#fff" stroke="#808080" stroke-width="1.6"/>
<path d="M96,329.5 C106.33,328.54 137.17,326.04 158,323.75 C178.83,321.46 200,318.96 221,315.75 C242,312.54 262.95,309.32 284,304.5 C305.05,299.68 329.63,293.18 347.3,286.8 C364.97,280.42 379.55,272.03 390,266.2 C400.45,260.37 403.17,257.15 410,251.8 C416.83,246.45 424,241.57 431,234.1 C438,226.63 444.8,216.52 452,207 C459.2,197.48 467.87,187.67 474.2,177 C480.53,166.33 484.87,153.67 490,143 C495.13,132.33 500,122.17 505,113 C510,103.83 514.92,95.12 520,88 C525.08,80.88 529.67,74.97 535.5,70.3 C541.33,65.63 548.42,62.47 555,60 C561.58,57.53 567.63,56.62 575,55.5 C582.37,54.38 591.7,53.8 599.2,53.3 C606.7,52.8 616.53,52.63 620,52.5" fill="none" stroke="#808080" stroke-width="2" stroke-linejoin="round" stroke-linecap="round"/>
<rect x="153.2" y="318.95" width="9.6" height="9.6" fill="#808080"/>
<rect x="216.2" y="310.95" width="9.6" height="9.6" fill="#808080"/>
<rect x="279.2" y="299.7" width="9.6" height="9.6" fill="#808080"/>
<rect x="342.5" y="282" width="9.6" height="9.6" fill="#808080"/>
<rect x="405.2" y="247" width="9.6" height="9.6" fill="#808080"/>
<rect x="469.4" y="172.2" width="9.6" height="9.6" fill="#808080"/>
<rect x="530.7" y="65.5" width="9.6" height="9.6" fill="#808080"/>
<rect x="594.4" y="48.5" width="9.6" height="9.6" fill="#808080"/>
<path d="M96,347.5 C99.38,347.92 107.3,349.33 116.3,350 C125.3,350.67 139.55,351.17 150,351.5 C160.45,351.83 169,351.75 179,352 C189,352.25 199.47,352.83 210,353 C220.53,353.17 231.37,353.75 242.2,353 C253.03,352.25 264.47,350.45 275,348.5 C285.53,346.55 297.57,343.47 305.4,341.3 C313.23,339.13 316.87,337.45 322,335.5 C327.13,333.55 331.53,331.6 336.2,329.6 C340.87,327.6 345.62,325.53 350,323.5 C354.38,321.47 359.42,318.88 362.5,317.4 C365.58,315.92 363.92,318.17 368.5,314.6 C373.08,311.03 383.42,302.77 390,296 C396.58,289.23 401.07,283.75 408,274 C414.93,264.25 424.27,249.33 431.6,237.5 C438.93,225.67 445.27,214.08 452,203 C458.73,191.92 464.88,182.42 472,171 C479.12,159.58 487.87,145.42 494.7,134.5 C501.53,123.58 507.72,112.92 513,105.5 C518.28,98.08 521.9,94.75 526.4,90 C530.9,85.25 534.77,81.27 540,77 C545.23,72.73 552.3,67.4 557.8,64.4 C563.3,61.4 567.13,60.57 573,59 C578.87,57.43 585.25,56.07 593,55 C600.75,53.93 615.08,53 619.5,52.6" fill="none" stroke="#800080" stroke-width="2.4" stroke-linejoin="round" stroke-linecap="round"/>
<rect x="111.5" y="345.2" width="9.6" height="9.6" fill="#800080"/>
<rect x="174.2" y="347.2" width="9.6" height="9.6" fill="#800080"/>
<rect x="237.4" y="348.2" width="9.6" height="9.6" fill="#800080"/>
<rect x="300.6" y="336.5" width="9.6" height="9.6" fill="#800080"/>
<rect x="363.7" y="309.8" width="9.6" height="9.6" fill="#800080"/>
<rect x="426.8" y="232.7" width="9.6" height="9.6" fill="#800080"/>
<rect x="489.9" y="129.7" width="9.6" height="9.6" fill="#800080"/>
<rect x="553" y="59.6" width="9.6" height="9.6" fill="#800080"/>
<rect x="615.8" y="47.8" width="9.6" height="9.6" fill="#800080"/>
<path d="M96,340 C99.5,340.22 108,340.47 117,341.3 C126,342.13 139.67,343.97 150,345 C160.33,346.03 169,346.75 179,347.5 C189,348.25 199.47,349.08 210,349.5 C220.53,349.92 231.37,350.92 242.2,350 C253.03,349.08 264.47,346.28 275,344 C285.53,341.72 297.57,338.47 305.4,336.3 C313.23,334.13 316.87,332.78 322,331 C327.13,329.22 332.88,327.4 336.2,325.6 C339.52,323.8 340.48,320.8 341.9,320.2 C343.32,319.6 342.68,322.28 344.7,322 C346.72,321.72 351.03,319.77 354,318.5 C356.97,317.23 360.08,315.75 362.5,314.4 C364.92,313.05 363.92,313.97 368.5,310.4 C373.08,306.83 383.42,299.48 390,293 C396.58,286.52 401.07,281.22 408,271.5 C414.93,261.78 424.27,246.45 431.6,234.7 C438.93,222.95 445.27,211.95 452,201 C458.73,190.05 464.88,180.3 472,169 C479.12,157.7 487.87,144.08 494.7,133.2 C501.53,122.32 507.72,111.07 513,103.7 C518.28,96.33 521.95,93.63 526.4,89 C530.85,84.37 534.47,80.08 539.7,75.9 C544.93,71.72 552.25,66.78 557.8,63.9 C563.35,61.02 567.13,60.15 573,58.6 C578.87,57.05 585.28,55.63 593,54.6 C600.72,53.57 614.92,52.77 619.3,52.4" fill="none" stroke="#800080" stroke-width="2.4" stroke-linejoin="round" stroke-linecap="round"/>
<rect x="113" y="337.3" width="8" height="8" fill="#fff" stroke="#800080" stroke-width="1.6"/>
<rect x="175" y="343.5" width="8" height="8" fill="#fff" stroke="#800080" stroke-width="1.6"/>
<rect x="238.2" y="346" width="8" height="8" fill="#fff" stroke="#800080" stroke-width="1.6"/>
<rect x="301.4" y="332.3" width="8" height="8" fill="#fff" stroke="#800080" stroke-width="1.6"/>
<rect x="364.5" y="306.4" width="8" height="8" fill="#fff" stroke="#800080" stroke-width="1.6"/>
<rect x="427.6" y="230.7" width="8" height="8" fill="#fff" stroke="#800080" stroke-width="1.6"/>
<rect x="490.7" y="129.2" width="8" height="8" fill="#fff" stroke="#800080" stroke-width="1.6"/>
<rect x="553.8" y="59.9" width="8" height="8" fill="#fff" stroke="#800080" stroke-width="1.6"/>
<rect x="616.6" y="48.4" width="8" height="8" fill="#fff" stroke="#800080" stroke-width="1.6"/>
</g>
<g clip-path="url(#cb)">
<path d="M763.6,89.6 C764.33,90.93 765.65,95.03 768,97.6 C770.35,100.17 772.87,102.28 777.7,105 C782.53,107.72 790.55,110.18 797,113.9 C803.45,117.62 811.68,123.33 816.4,127.3 C821.12,131.27 821.83,134.72 825.3,137.7 C828.77,140.68 833.23,142.72 837.2,145.2 C841.17,147.68 845.13,150.13 849.1,152.6 C853.07,155.07 856.05,156.28 861,160 C865.95,163.72 871.48,169.68 878.8,174.9 C886.12,180.12 896.27,185.45 904.9,191.3 C913.53,197.15 923.1,203.65 930.6,210 C938.1,216.35 943.03,223.37 949.9,229.4 C956.77,235.43 960.72,234.97 971.8,246.2 C982.88,257.43 1000.05,276.92 1016.4,296.8 C1032.75,316.68 1052.12,342.47 1069.9,365.5 C1087.68,388.53 1112.92,421 1123.1,435 C1133.28,449 1129.68,447.08 1131,449.5" fill="none" stroke="#800080" stroke-width="2" stroke-linejoin="round" stroke-linecap="round"/>
<rect x="758.8" y="84.8" width="9.6" height="9.6" fill="#800080"/>
<rect x="856.2" y="155.2" width="9.6" height="9.6" fill="#800080"/>
<rect x="945.1" y="224.6" width="9.6" height="9.6" fill="#800080"/>
<rect x="1011.6" y="292" width="9.6" height="9.6" fill="#800080"/>
<rect x="1065.1" y="360.7" width="9.6" height="9.6" fill="#800080"/>
<rect x="1118.3" y="430.2" width="9.6" height="9.6" fill="#800080"/>
<path d="M749.5,64.9 C750.98,65.63 754.93,67.07 758.4,69.3 C761.87,71.53 766.83,75.32 770.3,78.3 C773.77,81.28 775.98,84.48 779.2,87.2 C782.42,89.92 786.13,92 789.6,94.6 C793.07,97.2 796.28,100.07 800,102.8 C803.72,105.53 806.2,107.17 811.9,111 C817.6,114.83 826.77,120.6 834.2,125.8 C841.63,131 849.07,136.98 856.5,142.2 C863.93,147.42 871.98,152.15 878.8,157.1 C885.62,162.05 887.92,163.92 897.4,171.9 C906.88,179.88 923.25,193.57 935.7,205 C948.15,216.43 960.72,228 972.1,240.5 C983.48,253 994.48,268.48 1004,280 C1013.52,291.52 1016.58,293.02 1029.2,309.6 C1041.82,326.18 1062.23,356.77 1079.7,379.5 C1097.17,402.23 1124.62,434.33 1134,446 C1143.38,457.67 1135.67,448.92 1136,449.5" fill="none" stroke="#800080" stroke-width="2" stroke-linejoin="round" stroke-linecap="round"/>
<rect x="796" y="98.8" width="8" height="8" fill="#fff" stroke="#800080" stroke-width="1.6"/>
<rect x="893.4" y="167.9" width="8" height="8" fill="#fff" stroke="#800080" stroke-width="1.6"/>
<rect x="968.1" y="236.5" width="8" height="8" fill="#fff" stroke="#800080" stroke-width="1.6"/>
<rect x="1025.2" y="305.6" width="8" height="8" fill="#fff" stroke="#800080" stroke-width="1.6"/>
<rect x="1075.7" y="375.5" width="8" height="8" fill="#fff" stroke="#800080" stroke-width="1.6"/>
<rect x="1130" y="442" width="8" height="8" fill="#fff" stroke="#800080" stroke-width="1.6"/>
<path d="M749,103.5 C749.42,103.72 749.68,103.3 751.5,104.8 C753.32,106.3 754.78,109 759.9,112.5 C765.02,116 774.77,121.35 782.2,125.8 C789.63,130.25 797.82,134.85 804.5,139.2 C811.18,143.55 814.87,146.93 822.3,151.9 C829.73,156.87 840.92,164.17 849.1,169 C857.28,173.83 862.73,175.95 871.4,180.9 C880.07,185.85 891.53,192.12 901.1,198.7 C910.67,205.28 917.32,211.35 928.8,220.4 C940.28,229.45 956.3,241.43 970,253 C983.7,264.57 995.32,272.1 1011,289.8 C1026.68,307.5 1048.28,336.25 1064.1,359.2 C1079.92,382.15 1096.92,412.45 1105.9,427.5 C1114.88,442.55 1115.98,445.83 1118,449.5" fill="none" stroke="#808080" stroke-width="2" stroke-linejoin="round" stroke-linecap="round"/>
<rect x="747.5" y="100.3" width="8" height="8" fill="#fff" stroke="#808080" stroke-width="1.6"/>
<rect x="818.3" y="147.9" width="8" height="8" fill="#fff" stroke="#808080" stroke-width="1.6"/>
<rect x="924.8" y="216.4" width="8" height="8" fill="#fff" stroke="#808080" stroke-width="1.6"/>
<rect x="1007" y="285.8" width="8" height="8" fill="#fff" stroke="#808080" stroke-width="1.6"/>
<rect x="1060.1" y="355.2" width="8" height="8" fill="#fff" stroke="#808080" stroke-width="1.6"/>
<rect x="1101.9" y="423.5" width="8" height="8" fill="#fff" stroke="#808080" stroke-width="1.6"/>
<path d="M749,102.5 C749.95,102.92 752.88,103.75 754.7,105 C756.52,106.25 755.32,107.02 759.9,110 C764.48,112.98 774.77,118.77 782.2,122.9 C789.63,127.03 797.07,130.83 804.5,134.8 C811.93,138.77 819.37,142.5 826.8,146.7 C834.23,150.9 841.42,155.3 849.1,160 C856.78,164.7 863.6,169.43 872.9,174.9 C882.2,180.37 893.72,185.62 904.9,192.8 C916.08,199.98 928.72,209.53 940,218 C951.28,226.47 961.93,234.6 972.6,243.6 C983.27,252.6 991.78,260.42 1004,272 C1016.22,283.58 1029.98,294.92 1045.9,313.1 C1061.82,331.28 1083.65,358.87 1099.5,381.1 C1115.35,403.33 1133.75,435.1 1141,446.5 C1148.25,457.9 1142.67,449 1143,449.5" fill="none" stroke="#808080" stroke-width="2" stroke-linejoin="round" stroke-linecap="round"/>
<rect x="749.9" y="100.2" width="9.6" height="9.6" fill="#808080"/>
<rect x="868.1" y="170.1" width="9.6" height="9.6" fill="#808080"/>
<rect x="967.8" y="238.8" width="9.6" height="9.6" fill="#808080"/>
<rect x="1041.1" y="308.3" width="9.6" height="9.6" fill="#808080"/>
<rect x="1094.7" y="376.3" width="9.6" height="9.6" fill="#808080"/>
<rect x="1139.6" y="447.2" width="9.6" height="9.6" fill="#808080"/>
</g>
<g clip-path="url(#cc)">
<path d="M96,826 C100,826.5 111.32,827.82 120,829 C128.68,830.18 134.64,830.77 148.1,833.1 C161.56,835.43 183.27,839.77 200.75,843 C218.23,846.23 235.54,850.38 253,852.5 C270.46,854.62 288,855.12 305.5,855.75 C323,856.38 340.45,856.71 358,856.25 C375.55,855.79 397.13,854.59 410.8,853 C424.47,851.41 431.3,849.32 440,846.7 C448.7,844.08 456.72,840.28 463,837.3 C469.28,834.32 472.43,833.05 477.7,828.8 C482.97,824.55 489.9,818.08 494.6,811.8 C499.3,805.52 502.45,799.82 505.9,791.1 C509.35,782.38 511.57,771.85 515.3,759.5 C519.03,747.15 524.32,730.27 528.3,717 C532.28,703.73 535.57,693.35 539.2,679.9 C542.83,666.45 546.82,649.02 550.1,636.3 C553.38,623.58 556.35,614.13 558.9,603.6 C561.45,593.07 563.88,579.12 565.4,573.1 C566.92,567.08 565.87,571.6 568,567.5 C570.13,563.4 573.92,554.95 578.2,548.5 C582.48,542.05 588.55,533.3 593.7,528.8 C598.85,524.3 604.62,523.05 609.1,521.5 C613.58,519.95 618.68,519.83 620.6,519.5" fill="none" stroke="#800080" stroke-width="2" stroke-linejoin="round" stroke-linecap="round"/>
<circle cx="147.56" cy="833.02" r="5.3" fill="#800080"/>
<circle cx="200.12" cy="842.88" r="5.3" fill="#800080"/>
<circle cx="252.68" cy="852.44" r="5.3" fill="#800080"/>
<circle cx="305.24" cy="855.73" r="5.3" fill="#800080"/>
<circle cx="357.8" cy="856.25" r="5.3" fill="#800080"/>
<circle cx="410.36" cy="853.03" r="5.3" fill="#800080"/>
<circle cx="462.92" cy="837.33" r="5.3" fill="#800080"/>
<circle cx="515.48" cy="758.91" r="5.3" fill="#800080"/>
<circle cx="568.04" cy="567.43" r="5.3" fill="#800080"/>
<path d="M96,813 C100,813.58 111.32,815.25 120,816.5 C128.68,817.75 134.64,817.62 148.1,820.5 C161.56,823.38 183.27,830 200.75,833.75 C218.23,837.5 235.54,841.12 253,843 C270.46,844.88 288,844.67 305.5,845 C323,845.33 340.45,845.77 358,845 C375.55,844.23 397.13,842.78 410.8,840.4 C424.47,838.02 431.3,834.15 440,830.7 C448.7,827.25 456.72,822.85 463,819.7 C469.28,816.55 472.75,815.62 477.7,811.8 C482.65,807.98 488.32,803.07 492.7,796.8 C497.08,790.53 500.05,784.05 504,774.2 C507.95,764.35 512.98,748.4 516.4,737.7 C519.82,727 521.78,719.27 524.5,710 C527.22,700.73 528.97,695.12 532.7,682.1 C536.43,669.08 542.72,646.8 546.9,631.9 C551.08,617 554.35,603.77 557.8,592.7 C561.25,581.63 564.2,573.03 567.6,565.5 C571,557.97 573.85,553.72 578.2,547.5 C582.55,541.28 588.55,532.55 593.7,528.2 C598.85,523.85 604.62,522.85 609.1,521.4 C613.58,519.95 618.68,519.82 620.6,519.5" fill="none" stroke="#800080" stroke-width="2" stroke-linejoin="round" stroke-linecap="round"/>
<circle cx="147.56" cy="820.42" r="4.5" fill="#fff" stroke="#800080" stroke-width="1.6"/>
<circle cx="200.12" cy="833.59" r="4.5" fill="#fff" stroke="#800080" stroke-width="1.6"/>
<circle cx="252.68" cy="842.94" r="4.5" fill="#fff" stroke="#800080" stroke-width="1.6"/>
<circle cx="305.24" cy="844.99" r="4.5" fill="#fff" stroke="#800080" stroke-width="1.6"/>
<circle cx="357.8" cy="845" r="4.5" fill="#fff" stroke="#800080" stroke-width="1.6"/>
<circle cx="410.36" cy="840.44" r="4.5" fill="#fff" stroke="#800080" stroke-width="1.6"/>
<circle cx="462.92" cy="819.74" r="4.5" fill="#fff" stroke="#800080" stroke-width="1.6"/>
<circle cx="515.48" cy="740.41" r="4.5" fill="#fff" stroke="#800080" stroke-width="1.6"/>
<circle cx="568.04" cy="564.75" r="4.5" fill="#fff" stroke="#800080" stroke-width="1.6"/>
<path d="M96,825 C104.68,824.58 130.64,823.21 148.1,822.5 C165.56,821.79 183.27,821.88 200.75,820.75 C218.23,819.62 235.54,817.96 253,815.75 C270.46,813.54 288,811.46 305.5,807.5 C323,803.54 340.45,799.17 358,792 C375.55,784.83 397.13,772.83 410.8,764.5 C424.47,756.17 431.37,750.75 440,742 C448.63,733.25 453.73,728.95 462.6,712 C471.47,695.05 485.53,658.05 493.2,640.3 C500.87,622.55 504.9,613.4 508.6,605.5 C512.3,597.6 512.17,599.02 515.4,592.9 C518.63,586.78 522.68,577.97 528,568.8 C533.32,559.63 542.3,544.7 547.3,537.9 C552.3,531.1 554.55,530.38 558,528 C561.45,525.62 563.33,524.83 568,523.6 C572.67,522.37 577.4,521.27 586,520.6 C594.6,519.93 614,519.77 619.6,519.6" fill="none" stroke="#808080" stroke-width="2" stroke-linejoin="round" stroke-linecap="round"/>
<circle cx="97.5" cy="825.3" r="5.3" fill="#808080"/>
<circle cx="147.56" cy="822.53" r="5.3" fill="#808080"/>
<circle cx="200.12" cy="820.77" r="5.3" fill="#808080"/>
<circle cx="252.68" cy="815.78" r="5.3" fill="#808080"/>
<circle cx="305.24" cy="807.54" r="5.3" fill="#808080"/>
<circle cx="357.8" cy="792.06" r="5.3" fill="#808080"/>
<circle cx="410.36" cy="764.73" r="5.3" fill="#808080"/>
<circle cx="462.92" cy="711.25" r="5.3" fill="#808080"/>
<circle cx="515.48" cy="592.75" r="5.3" fill="#808080"/>
<circle cx="568.04" cy="523.59" r="5.3" fill="#808080"/>
<path d="M96,808.5 C104.68,807.97 130.64,806.72 148.1,805.3 C165.56,803.88 183.27,801.84 200.75,800 C218.23,798.16 235.54,796.88 253,794.25 C270.46,791.62 288,788.79 305.5,784.25 C323,779.71 340.45,774.62 358,767 C375.55,759.38 397.13,747.33 410.8,738.5 C424.47,729.67 431.37,722.82 440,714 C448.63,705.18 454.38,698.53 462.6,685.6 C470.82,672.67 482.27,651.03 489.3,636.4 C496.33,621.77 500.38,607.72 504.8,597.8 C509.22,587.88 511.93,584 515.8,576.9 C519.67,569.8 523.4,562.03 528,555.2 C532.6,548.37 538.57,540.72 543.4,535.9 C548.23,531.08 552.97,528.38 557,526.3 C561.03,524.22 562.77,524.37 567.6,523.4 C572.43,522.43 577.33,521.13 586,520.5 C594.67,519.87 614,519.75 619.6,519.6" fill="none" stroke="#808080" stroke-width="2" stroke-linejoin="round" stroke-linecap="round"/>
<circle cx="97.5" cy="808" r="4.5" fill="#fff" stroke="#808080" stroke-width="1.6"/>
<circle cx="147.56" cy="805.33" r="4.5" fill="#fff" stroke="#808080" stroke-width="1.6"/>
<circle cx="200.12" cy="800.06" r="4.5" fill="#fff" stroke="#808080" stroke-width="1.6"/>
<circle cx="252.68" cy="794.29" r="4.5" fill="#fff" stroke="#808080" stroke-width="1.6"/>
<circle cx="305.24" cy="784.3" r="4.5" fill="#fff" stroke="#808080" stroke-width="1.6"/>
<circle cx="357.8" cy="767.07" r="4.5" fill="#fff" stroke="#808080" stroke-width="1.6"/>
<circle cx="410.36" cy="738.74" r="4.5" fill="#fff" stroke="#808080" stroke-width="1.6"/>
<circle cx="462.92" cy="685.01" r="4.5" fill="#fff" stroke="#808080" stroke-width="1.6"/>
<circle cx="515.48" cy="577.51" r="4.5" fill="#fff" stroke="#808080" stroke-width="1.6"/>
<circle cx="568.04" cy="523.33" r="4.5" fill="#fff" stroke="#808080" stroke-width="1.6"/>
<circle cx="620" cy="519.5" r="4.5" fill="#fff" stroke="#808080" stroke-width="1.6"/>
</g>
<g clip-path="url(#cd)">
<path d="M805,511.9 C810.83,514.17 827.83,521.23 840,525.5 C852.17,529.77 861.33,530.83 878,537.5 C894.67,544.17 919.7,555.93 940,565.5 C960.3,575.07 982.3,585.32 999.8,594.9 C1017.3,604.48 1029.93,613.35 1045,623 C1060.07,632.65 1076.37,643.22 1090.2,652.8 C1104.03,662.38 1115.3,670.93 1128,680.5 C1140.7,690.07 1154.4,700.62 1166.4,710.2 C1178.4,719.78 1188.9,728.42 1200,738 C1211.1,747.58 1220.67,755.7 1233,767.7 C1245.33,779.7 1267.17,802.95 1274,810" fill="none" stroke="#800080" stroke-width="2" stroke-linejoin="round" stroke-linecap="round"/>
<circle cx="878" cy="537.5" r="5.3" fill="#800080"/>
<circle cx="999.8" cy="594.9" r="5.3" fill="#800080"/>
<circle cx="1090.2" cy="652.8" r="5.3" fill="#800080"/>
<circle cx="1166.4" cy="710.2" r="5.3" fill="#800080"/>
<circle cx="1233" cy="767.7" r="5.3" fill="#800080"/>
<path d="M805,511.9 C809.17,513.42 820.75,517.48 830,521 C839.25,524.52 845.5,526.58 860.5,533 C875.5,539.42 899.55,549.87 920,559.5 C940.45,569.13 965.37,581.05 983.2,590.8 C1001.03,600.55 1012.57,608.5 1027,618 C1041.43,627.5 1056.63,638.22 1069.8,647.8 C1082.97,657.38 1093.93,665.93 1106,675.5 C1118.07,685.07 1131.03,695.62 1142.2,705.2 C1153.37,714.78 1162.73,723.35 1173,733 C1183.27,742.65 1190.33,748.5 1203.8,763.1 C1217.27,777.7 1242.1,807.2 1253.8,820.6 C1265.5,834 1270.63,839.68 1274,843.5" fill="none" stroke="#800080" stroke-width="2" stroke-linejoin="round" stroke-linecap="round"/>
<circle cx="860.5" cy="533" r="4.5" fill="#fff" stroke="#800080" stroke-width="1.6"/>
<circle cx="983.2" cy="590.8" r="4.5" fill="#fff" stroke="#800080" stroke-width="1.6"/>
<circle cx="1069.8" cy="647.8" r="4.5" fill="#fff" stroke="#800080" stroke-width="1.6"/>
<circle cx="1142.2" cy="705.2" r="4.5" fill="#fff" stroke="#800080" stroke-width="1.6"/>
<circle cx="1203.8" cy="763.1" r="4.5" fill="#fff" stroke="#800080" stroke-width="1.6"/>
<circle cx="1253.8" cy="820.6" r="4.5" fill="#fff" stroke="#800080" stroke-width="1.6"/>
<path d="M748.5,552 C753.75,555.08 768.98,563.9 780,570.5 C791.02,577.1 800.77,583.43 814.6,591.6 C828.43,599.77 846.7,609.93 863,619.5 C879.3,629.07 897.07,639.42 912.4,649 C927.73,658.58 940.92,667.35 955,677 C969.08,686.65 984.57,697.48 996.9,706.9 C1009.23,716.32 1018.45,723.92 1029,733.5 C1039.55,743.08 1051.2,754.82 1060.2,764.4 C1069.2,773.98 1075.58,781.43 1083,791 C1090.42,800.57 1097.87,811.8 1104.7,821.8 C1111.53,831.8 1118.03,841.35 1124,851 C1129.97,860.65 1135.83,871.87 1140.5,879.7 C1145.17,887.53 1148.38,892.25 1152,898 C1155.62,903.75 1160.5,911.5 1162.2,914.2" fill="none" stroke="#808080" stroke-width="2" stroke-linejoin="round" stroke-linecap="round"/>
<circle cx="814.6" cy="591.6" r="4.5" fill="#fff" stroke="#808080" stroke-width="1.6"/>
<circle cx="912.4" cy="649" r="4.5" fill="#fff" stroke="#808080" stroke-width="1.6"/>
<circle cx="996.9" cy="706.9" r="4.5" fill="#fff" stroke="#808080" stroke-width="1.6"/>
<circle cx="1060.2" cy="764.4" r="4.5" fill="#fff" stroke="#808080" stroke-width="1.6"/>
<circle cx="1104.7" cy="821.8" r="4.5" fill="#fff" stroke="#808080" stroke-width="1.6"/>
<circle cx="1140.5" cy="879.7" r="4.5" fill="#fff" stroke="#808080" stroke-width="1.6"/>
<path d="M748.5,541.25 C753.75,544.29 768.5,552.71 780,559.5 C791.5,566.29 803,573.58 817.5,582 C832,590.42 850.28,600.42 867,610 C883.72,619.58 902.3,630 917.8,639.5 C933.3,649 945.85,657.43 960,667 C974.15,676.57 990.03,687.4 1002.7,696.9 C1015.37,706.4 1024.82,714.35 1036,724 C1047.18,733.65 1060.13,745.3 1069.8,754.8 C1079.47,764.3 1086.23,771.43 1094,781 C1101.77,790.57 1109.4,802.2 1116.4,812.2 C1123.4,822.2 1129.9,831.48 1136,841 C1142.1,850.52 1148,860.97 1153,869.3 C1158,877.63 1161.68,883.52 1166,891 C1170.32,898.48 1176.75,910.33 1178.9,914.2" fill="none" stroke="#808080" stroke-width="2" stroke-linejoin="round" stroke-linecap="round"/>
<circle cx="817.5" cy="582" r="5.3" fill="#808080"/>
<circle cx="917.8" cy="639.5" r="5.3" fill="#808080"/>
<circle cx="1002.7" cy="696.9" r="5.3" fill="#808080"/>
<circle cx="1069.8" cy="754.8" r="5.3" fill="#808080"/>
<circle cx="1116.4" cy="812.2" r="5.3" fill="#808080"/>
<circle cx="1153" cy="869.3" r="5.3" fill="#808080"/>
</g>
</svg>
</body></html>
